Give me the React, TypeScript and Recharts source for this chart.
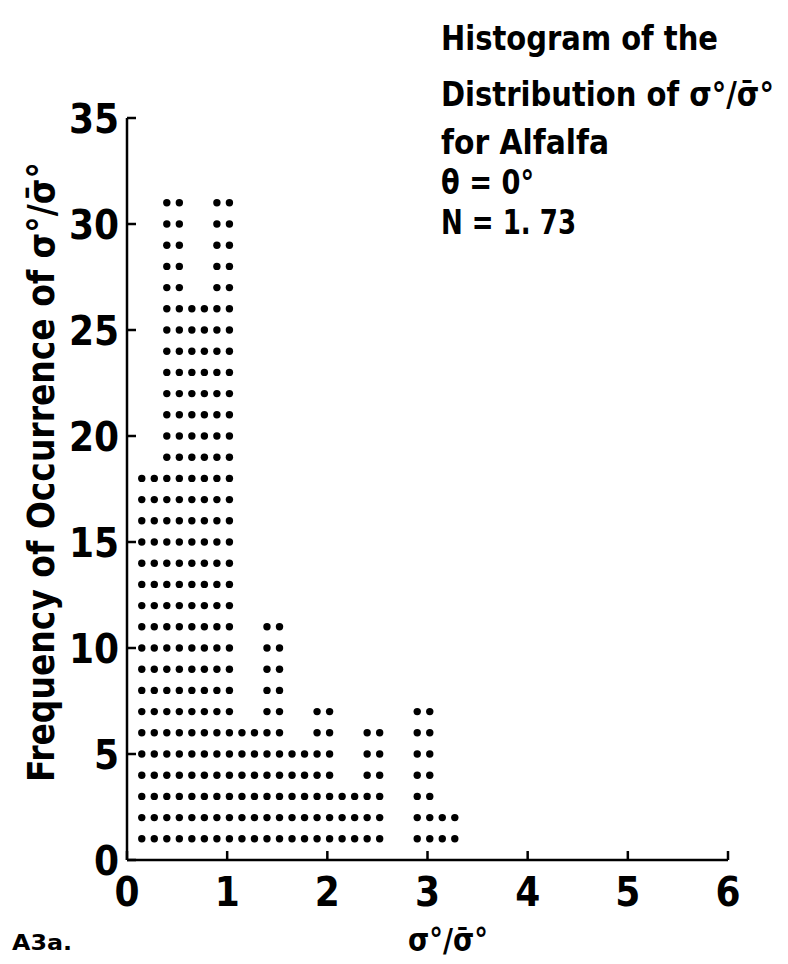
import React from 'react';
import { ScatterChart, Scatter, XAxis, YAxis } from 'recharts';

// Histogram bins (centre of each 0.25-wide bin on the sigma ratio axis) and frequencies
const binCenters = [0.21, 0.46, 0.71, 0.96, 1.21, 1.46, 1.71, 1.96, 2.21, 2.46, 2.71, 2.96, 3.21];
const binCounts = [18, 31, 26, 31, 6, 11, 5, 7, 3, 6, 0, 7, 2];

const xTicks = [0, 1, 2, 3, 4, 5, 6];
const yTicks = [0, 5, 10, 15, 20, 25, 30, 35];

const titleLines = [
  'Histogram of the',
  'Distribution of σ°/σ̄°',
  'for Alfalfa',
  'θ = 0°',
  'N = 1. 73',
];
const yTitle = 'Frequency of Occurrence of σ°/σ̄°';
const xTitle = 'σ°/σ̄°';
const figureTag = 'A3a.';

// each bin is printed as two dot columns, one dot per occurrence
const COL_OFFSET = 0.0625;
const dots = binCenters.flatMap((c, i) => {
  const pts: { x: number; y: number }[] = [];
  for (let n = 1; n <= binCounts[i]; n++) {
    pts.push({ x: c - COL_OFFSET, y: n });
    pts.push({ x: c + COL_OFFSET, y: n });
  }
  return pts;
});

const FONT = "'Liberation Sans Narrow', 'DejaVu Sans Condensed', 'Roboto Condensed', 'Liberation Sans', sans-serif";

const XTick = (props: any) => {
  const { x, y, payload } = props;
  return (
    <g>
      <line x1={x} y1={y} x2={x} y2={y - 9} stroke="#000" strokeWidth={2.5} />
      <text x={x} y={y + 46} textAnchor="middle" fontSize={40} fontWeight="bold" fontFamily={FONT} fill="#000">
        {payload.value}
      </text>
    </g>
  );
};

const YTick = (props: any) => {
  const { x, y, payload } = props;
  return (
    <g>
      <line x1={x} y1={y} x2={x + 9} y2={y} stroke="#000" strokeWidth={2.5} />
      <text x={x - 8} y={y + 15} textAnchor="end" fontSize={40} fontWeight="bold" fontFamily={FONT} fill="#000">
        {payload.value}
      </text>
    </g>
  );
};

const Dot = (props: any) => {
  const { cx, cy } = props;
  if (cx == null || cy == null) return null;
  return <circle cx={cx} cy={cy} r={3.7} fill="#000" />;
};

const titleBaselines = [50, 106, 154, 194, 234];
const titleWidths = [277, 333, 168, 93, 135];

export default function App() {
  return (
    <div style={{ position: 'absolute', left: 0, top: 0, width: 788, height: 964, background: '#fff' }}>
      <ScatterChart width={788} height={964} margin={{ top: 118, right: 60, bottom: 44, left: 67 }}>
        <XAxis
          type="number"
          dataKey="x"
          domain={[0, 6]}
          ticks={xTicks}
          interval={0}
          height={60}
          tickSize={0}
          tickMargin={0}
          tickLine={false}
          axisLine={{ stroke: '#000', strokeWidth: 2.5 }}
          tick={<XTick />}
        />
        <YAxis
          type="number"
          dataKey="y"
          domain={[0, 35]}
          ticks={yTicks}
          interval={0}
          width={60}
          tickSize={0}
          tickMargin={0}
          tickLine={false}
          axisLine={{ stroke: '#000', strokeWidth: 2.5 }}
          tick={<YTick />}
        />
        <Scatter data={dots} isAnimationActive={false} shape={<Dot />} />
      </ScatterChart>
      <svg
        width={788}
        height={964}
        style={{ position: 'absolute', left: 0, top: 0, pointerEvents: 'none' }}
      >
        {titleLines.map((t, i) => (
          <text
            key={i}
            x={441}
            y={titleBaselines[i]}
            fontSize={33}
            fontWeight="bold"
            fontFamily={FONT}
            fill="#000"
            textLength={titleWidths[i]}
            lengthAdjust="spacingAndGlyphs"
          >
            {t}
          </text>
        ))}
        <text
          transform="translate(54, 472) rotate(-90)"
          textAnchor="middle"
          fontSize={38}
          fontWeight="bold"
          fontFamily={FONT}
          fill="#000"
          textLength={620}
          lengthAdjust="spacingAndGlyphs"
        >
          {yTitle}
        </text>
        <text
          x={448}
          y={951}
          textAnchor="middle"
          fontSize={32}
          fontWeight="bold"
          fontFamily={FONT}
          fill="#000"
          textLength={80}
          lengthAdjust="spacingAndGlyphs"
        >
          {xTitle}
        </text>
        <text
          x={12}
          y={950}
          fontSize={22}
          fontWeight="bold"
          fontFamily="'DejaVu Sans', sans-serif"
          fill="#000"
          textLength={60}
          lengthAdjust="spacingAndGlyphs"
        >
          {figureTag}
        </text>
      </svg>
    </div>
  );
}
